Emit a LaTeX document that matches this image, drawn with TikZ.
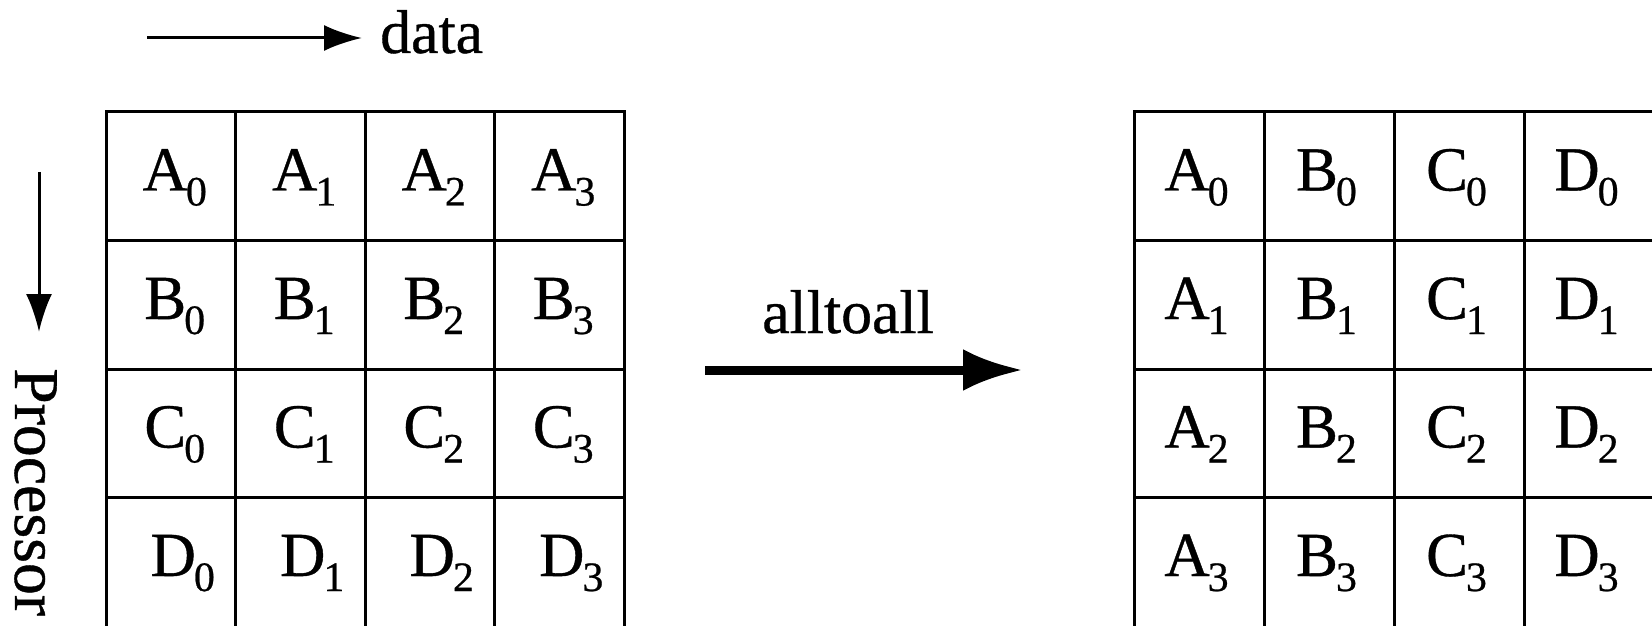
\documentclass[tikz,border=0pt]{standalone}
\usepackage{fontspec}
\setmainfont{Liberation Serif}[FakeBold=0.6]
\usetikzlibrary{arrows.meta,calc}
\newcommand\letterof[1]{\ifcase#1 A\or B\or C\or D\fi}
\newcommand\cl[2]{#1\kern-2bp\raisebox{-15bp}{\fontsize{42}{42}\selectfont #2}}
\begin{document}
\begin{tikzpicture}[x=1bp,y=-1bp,
  cellbox/.style={draw=black,line width=3bp,rectangle,minimum width=129.5bp,inner sep=0pt,outer sep=0pt,anchor=north west},
  celltxt/.style={anchor=base,inner sep=0pt,font=\fontsize{63}{70}\selectfont},
  lab/.style={inner sep=0pt,font=\fontsize{62}{70}\selectfont},
  thinarrow/.style={line width=3bp,-{Latex[length=38bp,width=26bp]}},
  bigarrow/.style={line width=9bp,-{Latex[length=60bp,width=42bp]}}
]
\useasboundingbox (0,0) rectangle (1652,626);
\fill[white] (0,0) rectangle (1652,626);
\clip (0,0) rectangle (1652,626);

% left grid: row r holds letter r, columns hold indices
\foreach \r in {0,...,3}{
  \foreach \c in {0,...,3}{
    \pgfmathsetmacro\hh{\r==3 ? 136 : 128.5}
    \pgfmathsetmacro\dx{\r==3 ? 12 : 4}
    \node[cellbox,minimum height=\hh bp] (L\r\c) at ({106+129.5*\c},{112+128.5*\r}) {};
    \node[celltxt] (LT\r\c) at ($(L\r\c.north)+(\dx,78.5)$) {\cl{\letterof{\r}}{\c}};
  }
}

% right grid: column c holds letter c, rows hold indices
\foreach \r in {0,...,3}{
  \foreach \c in {0,...,3}{
    \pgfmathsetmacro\hh{\r==3 ? 136 : 128.5}
    \node[cellbox,minimum height=\hh bp,minimum width=130bp] (R\r\c) at ({1134.5+130*\c},{112+128.5*\r}) {};
    \node[celltxt] (RT\r\c) at ($(R\r\c.north)+(-3,78.5)$) {\cl{\letterof{\c}}{\r}};
  }
}

% data arrow
\node[lab,anchor=base west] (data) at (380,53) {data};
\coordinate (dataS) at (147,38);
\draw[thinarrow] (dataS) -- ($(dataS -| data.west)+(-18,0)$);

% processor arrow
\node[lab,rotate=-90,anchor=base west,font=\fontsize{64}{70}\selectfont] (proc) at (15,368) {Processor};
\coordinate (procS) at (39,172);
\draw[thinarrow] (procS) -- ($(procS |- proc.west)+(0,-36)$);

% alltoall arrow
\node[lab,anchor=base] (all) at (848,333) {alltoall};
\coordinate (aS) at (705,370);
\coordinate (aE) at (1023,370);
\draw[bigarrow] (aS) -- (aE);
\end{tikzpicture}
\end{document}
